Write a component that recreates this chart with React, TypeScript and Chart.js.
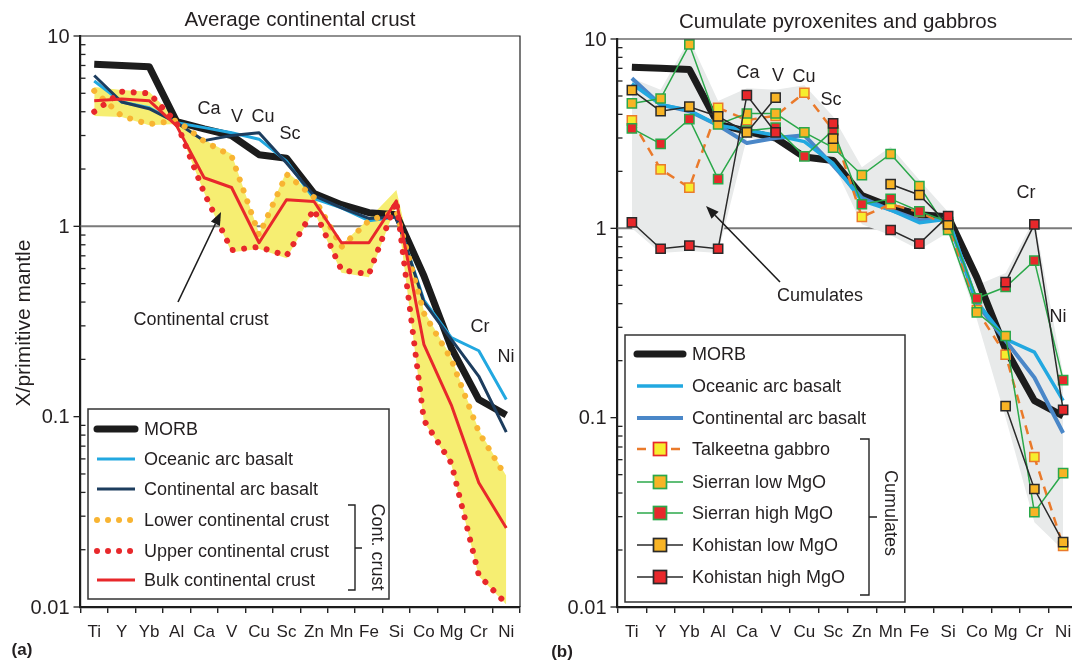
import React, { useEffect, useRef } from "react";
import { Chart, registerables } from "chart.js";

Chart.register(...registerables);

const FONT = "'Liberation Sans', Arial, Helvetica, sans-serif";

// ---------------- data ----------------
const elements = ["Ti", "Y", "Yb", "Al", "Ca", "V", "Cu", "Sc", "Zn", "Mn", "Fe", "Si", "Co", "Mg", "Cr", "Ni"];
const yTickValues = [10, 1, 0.1, 0.01];
const yTickLabels = ["10", "1", "0.1", "0.01"];

const morb = [7.1, 7.0, 6.9, 3.55, 3.25, 3.0, 2.38, 2.28, 1.49, 1.3, 1.18, 1.15, 0.55, 0.23, 0.123, 0.102];
const oceanicArcBasalt = [5.8, 4.5, 4.2, 3.5, 3.3, 3.1, 2.87, 2.2, 1.4, 1.25, 1.07, 1.12, 0.41, 0.26, 0.222, 0.123];
const continentalArcBasalt = [6.2, 4.5, 4.15, 3.5, 2.82, 3.0, 3.1, 2.15, 1.45, 1.25, 1.1, 1.12, 0.4, 0.255, 0.163, 0.083];
const lowerCrust = [5.15, 3.8, 3.44, 3.6, 2.8, 2.34, 0.9, 1.88, 1.42, 0.78, 1.07, 1.2, 0.35, 0.2, 0.083, 0.048];
const upperCrust = [4.0, 5.1, 5.0, 3.5, 1.5, 0.75, 0.78, 0.7, 1.23, 0.59, 0.56, 1.36, 0.096, 0.057, 0.0147, 0.0104];
const bulkCrust = [4.57, 4.66, 4.57, 3.37, 1.8, 1.6, 0.82, 1.38, 1.35, 0.82, 0.82, 1.36, 0.24, 0.115, 0.045, 0.026];
const crustFieldTop = [5.4, 5.2, 5.1, 3.65, 2.85, 2.4, 0.92, 1.95, 1.45, 0.8, 1.1, 1.55, 0.36, 0.205, 0.085, 0.049];
const crustFieldBottom = [3.8, 3.75, 3.4, 3.45, 1.5, 0.73, 0.76, 0.68, 1.2, 0.57, 0.54, 1.3, 0.094, 0.056, 0.0145, 0.0103];

const talkeetnaGabbro = [3.72, 2.05, 1.64, 4.33, 3.73, 3.93, 5.2, 3.3, 1.15, 1.34, 1.22, 1.03, 0.37, 0.215, 0.062, 0.021];
const sierranLowMgO = [4.57, 4.85, 9.35, 3.54, 4.04, 4.04, 3.21, 2.67, 1.91, 2.47, 1.67, 0.98, 0.36, 0.27, 0.0317, 0.051];
const sierranHighMgO = [3.37, 2.79, 3.77, 1.82, 3.28, 3.4, 2.4, 3.3, 1.34, 1.43, 1.23, 1.08, 0.427, 0.49, 0.675, 0.158];
const kohistanLowMgO = [5.37, 4.16, 4.39, 3.9, 3.21, 4.9, null, 2.98, null, 1.71, 1.5, 1.05, null, 0.115, 0.042, 0.022];
const kohistanHighMgO = [1.076, 0.78, 0.81, 0.78, 5.05, 3.21, null, 3.58, null, 0.98, 0.83, 1.16, null, 0.52, 1.05, 0.11];
const cumulateFieldTop = [6.2, 5.4, 10, 4.7, 5.5, 5.4, 5.7, 3.9, 2.1, 2.7, 1.8, 1.22, 0.5, 0.58, 1.12, 0.17];
const cumulateFieldBottom = [1.0, 0.74, 0.76, 0.74, 3.0, 2.9, 2.3, 2.2, 1.05, 0.92, 0.77, 0.95, 0.33, 0.1, 0.028, 0.02];

// ---------------- styles ----------------
const BLACK = "#1c1c1c";
const SKY = "#22a8e0";
const NAVY = "#1d3d5e";
const MIDBLUE = "#4a87c8";
const RED = "#e8282b";
const ORANGE_DOT = "#f8b432";
const YELLOW = "#f6ee72";
const GRAYFIELD = "#e8eaea";
const GREEN = "#2ba84a";
const ORANGE_MK = "#f8b425";
const YELLOW_MK = "#f6ed2e";
const TALK = "#ea7a2b";
const MK_BLACK = "#2a2a2a";
const TEXT = "#231f20";

type LegendEntry = {
  label: string;
  color: string;
  width: number;
  dash?: number[];
  cap?: CanvasLineCap;
  markerFill?: string;
  markerStroke?: string;
  y: number;
};

type Decor = {
  title: string;
  titleX: number;
  titleY: number;
  drawRight: boolean;
  yTitle?: { text: string; x: number; y: number };
  annotations: { text: string; x: number; y: number }[];
  arrow: { x1: number; y1: number; x2: number; y2: number };
  arrowLabel: { text: string; x: number; y: number };
  legendBox: [number, number, number, number];
  sampleX0: number;
  sampleX1: number;
  textX: number;
  entries: LegendEntry[];
  bracket: { x: number; y0: number; y1: number; ym: number; left: number; right: number; text: string; tx: number; ty: number };
  panelLabel: { text: string; x: number; y: number };
};

function drawArrow(ctx: CanvasRenderingContext2D, x1: number, y1: number, x2: number, y2: number) {
  const ang = Math.atan2(y2 - y1, x2 - x1);
  const hl = 13;
  const hw = 5;
  const bx = x2 - hl * Math.cos(ang);
  const by = y2 - hl * Math.sin(ang);
  ctx.save();
  ctx.strokeStyle = BLACK;
  ctx.fillStyle = BLACK;
  ctx.lineWidth = 1.6;
  ctx.beginPath();
  ctx.moveTo(x1, y1);
  ctx.lineTo(bx, by);
  ctx.stroke();
  ctx.beginPath();
  ctx.moveTo(x2, y2);
  ctx.lineTo(bx + hw * Math.sin(ang), by - hw * Math.cos(ang));
  ctx.lineTo(bx - hw * Math.sin(ang), by + hw * Math.cos(ang));
  ctx.closePath();
  ctx.fill();
  ctx.restore();
}

function makeDecor(d: Decor) {
  return {
    id: "decor",
    beforeDatasetsDraw(chart: any) {
      const { ctx, chartArea: a, scales } = chart;
      const py = scales.y.getPixelForValue(1);
      ctx.save();
      ctx.strokeStyle = "#7a7a7a";
      ctx.lineWidth = 2;
      ctx.beginPath();
      ctx.moveTo(a.left, py);
      ctx.lineTo(a.right, py);
      ctx.stroke();
      ctx.restore();
    },
    afterDraw(chart: any) {
      const { ctx, chartArea: a, scales } = chart;
      const ys = scales.y;
      ctx.save();
      // frame
      ctx.strokeStyle = "#222";
      ctx.lineWidth = 1.2;
      ctx.beginPath();
      ctx.moveTo(a.left, a.top);
      ctx.lineTo(a.right, a.top);
      if (d.drawRight) ctx.lineTo(a.right, a.bottom);
      ctx.stroke();
      // y minor ticks
      ctx.lineWidth = 1.3;
      for (let dec = -2; dec <= 0; dec++) {
        for (let m = 2; m <= 9; m++) {
          const p = ys.getPixelForValue(m * Math.pow(10, dec));
          ctx.beginPath();
          ctx.moveTo(a.left, p);
          ctx.lineTo(a.left + 5, p);
          ctx.stroke();
        }
      }
      // y major ticks + labels
      ctx.font = `20px ${FONT}`;
      ctx.fillStyle = TEXT;
      ctx.textAlign = "right";
      ctx.textBaseline = "middle";
      yTickValues.forEach((v, i) => {
        const p = ys.getPixelForValue(v);
        ctx.beginPath();
        ctx.moveTo(a.left - 7, p);
        ctx.lineTo(a.left, p);
        ctx.stroke();
        ctx.fillText(yTickLabels[i], a.left - 11, p + 1);
      });
      // title
      ctx.textAlign = "center";
      ctx.font = `20.5px ${FONT}`;
      ctx.fillText(d.title, d.titleX, d.titleY);
      // y title
      if (d.yTitle) {
        ctx.save();
        ctx.translate(d.yTitle.x, d.yTitle.y);
        ctx.rotate(-Math.PI / 2);
        ctx.font = `21px ${FONT}`;
        ctx.fillText(d.yTitle.text, 0, 0);
        ctx.restore();
      }
      // annotations
      ctx.font = `18px ${FONT}`;
      d.annotations.forEach((t) => ctx.fillText(t.text, t.x, t.y));
      ctx.fillText(d.arrowLabel.text, d.arrowLabel.x, d.arrowLabel.y);
      drawArrow(ctx, d.arrow.x1, d.arrow.y1, d.arrow.x2, d.arrow.y2);
      // legend box
      const [l, t, r, b] = d.legendBox;
      ctx.fillStyle = "#fff";
      ctx.fillRect(l, t, r - l, b - t);
      ctx.strokeStyle = "#333";
      ctx.lineWidth = 1.5;
      ctx.strokeRect(l, t, r - l, b - t);
      d.entries.forEach((e) => {
        ctx.save();
        ctx.strokeStyle = e.color;
        ctx.lineWidth = e.width;
        ctx.lineCap = e.cap || "butt";
        ctx.setLineDash(e.dash || []);
        ctx.beginPath();
        ctx.moveTo(d.sampleX0, e.y);
        ctx.lineTo(d.sampleX1, e.y);
        ctx.stroke();
        if (e.markerFill) {
          const s = 13;
          const cx = (d.sampleX0 + d.sampleX1) / 2;
          ctx.setLineDash([]);
          ctx.fillStyle = e.markerFill;
          ctx.fillRect(cx - s / 2, e.y - s / 2, s, s);
          ctx.strokeStyle = e.markerStroke || BLACK;
          ctx.lineWidth = 1.7;
          ctx.strokeRect(cx - s / 2, e.y - s / 2, s, s);
        }
        ctx.restore();
        ctx.fillStyle = TEXT;
        ctx.textAlign = "left";
        ctx.textBaseline = "middle";
        ctx.font = `18px ${FONT}`;
        ctx.fillText(e.label, d.textX, e.y + 1);
      });
      // bracket
      const br = d.bracket;
      ctx.strokeStyle = "#222";
      ctx.lineWidth = 1.4;
      ctx.beginPath();
      ctx.moveTo(br.left, br.y0);
      ctx.lineTo(br.x, br.y0);
      ctx.lineTo(br.x, br.y1);
      ctx.lineTo(br.left, br.y1);
      ctx.moveTo(br.x, br.ym);
      ctx.lineTo(br.right, br.ym);
      ctx.stroke();
      ctx.save();
      ctx.translate(br.tx, br.ty);
      ctx.rotate(Math.PI / 2);
      ctx.textAlign = "center";
      ctx.textBaseline = "middle";
      ctx.fillStyle = TEXT;
      ctx.font = `18px ${FONT}`;
      ctx.fillText(br.text, 0, 0);
      ctx.restore();
      // panel label
      ctx.font = `bold 17px ${FONT}`;
      ctx.textAlign = "center";
      ctx.fillStyle = TEXT;
      ctx.fillText(d.panelLabel.text, d.panelLabel.x, d.panelLabel.y);
      ctx.restore();
    },
  };
}

function line(label: string, data: (number | null)[], o: any) {
  return { label, data, pointRadius: 0, tension: 0, fill: false, borderJoinStyle: "round", ...o };
}

function marker(label: string, data: (number | null)[], lineColor: string, fillColor: string, edge: string, o: any) {
  return {
    label,
    data,
    tension: 0,
    fill: false,
    borderColor: lineColor,
    borderWidth: 1.5,
    pointStyle: "rect",
    pointRadius: 6.5,
    pointBackgroundColor: fillColor,
    pointBorderColor: edge,
    pointBorderWidth: 1.5,
    ...o,
  };
}

function baseOptions(left: number, top: number, rightPad: number, bottomH: number) {
  return {
    responsive: false,
    maintainAspectRatio: false,
    animation: false,
    events: [],
    layout: { padding: { left: 0, top, right: rightPad, bottom: 0 } },
    plugins: { legend: { display: false }, tooltip: { enabled: false }, title: { display: false } },
    scales: {
      x: {
        type: "category",
        labels: elements,
        offset: true,
        grid: {
          display: true,
          offset: true,
          drawOnChartArea: false,
          drawTicks: true,
          tickLength: 6,
          color: "#222",
          tickColor: "#222",
          tickWidth: 1.4,
          lineWidth: 1.4,
        },
        border: { display: true, color: BLACK, width: 2.2 },
        ticks: { font: { family: FONT, size: 17 }, color: TEXT, padding: 9, maxRotation: 0, autoSkip: false },
        afterFit: (s: any) => {
          s.height = bottomH;
        },
      },
      y: {
        type: "logarithmic",
        min: 0.01,
        max: 10,
        grid: { display: false },
        border: { display: true, color: BLACK, width: 2.2 },
        ticks: { display: false },
        afterFit: (s: any) => {
          s.width = left;
        },
      },
    },
  };
}

function configA(): any {
  const decor = makeDecor({
    title: "Average continental crust",
    titleX: 300,
    titleY: 20,
    drawRight: true,
    yTitle: { text: "X/primitive mantle", x: 24, y: 323 },
    annotations: [
      { text: "Ca", x: 209, y: 109 },
      { text: "V", x: 237, y: 117 },
      { text: "Cu", x: 263, y: 117 },
      { text: "Sc", x: 290, y: 134 },
      { text: "Cr", x: 480, y: 327 },
      { text: "Ni", x: 506, y: 357 },
    ],
    arrow: { x1: 178, y1: 302, x2: 221, y2: 212 },
    arrowLabel: { text: "Continental crust", x: 201, y: 320 },
    legendBox: [88, 409, 389, 599],
    sampleX0: 97,
    sampleX1: 135,
    textX: 144,
    entries: [
      { label: "MORB", color: BLACK, width: 7, cap: "round", y: 429 },
      { label: "Oceanic arc basalt", color: SKY, width: 3, y: 459 },
      { label: "Continental arc basalt", color: NAVY, width: 3, y: 489 },
      { label: "Lower continental crust", color: ORANGE_DOT, width: 6, cap: "round", dash: [0.01, 11], y: 520 },
      { label: "Upper continental crust", color: RED, width: 6, cap: "round", dash: [0.01, 11], y: 551 },
      { label: "Bulk continental crust", color: RED, width: 3, y: 580 },
    ],
    bracket: { x: 355, y0: 505, y1: 590, ym: 548, left: 348, right: 362, text: "Cont. crust", tx: 377, ty: 547 },
    panelLabel: { text: "(a)", x: 22, y: 650 },
  });
  return {
    type: "line",
    data: {
      labels: elements,
      datasets: [
        line("Bulk continental crust", bulkCrust, { borderColor: RED, borderWidth: 3, order: 0 }),
        line("Upper continental crust", upperCrust, {
          borderColor: RED,
          borderWidth: 6,
          borderDash: [0.01, 11.5],
          borderCapStyle: "round",
          order: 1,
        }),
        line("Lower continental crust", lowerCrust, {
          borderColor: ORANGE_DOT,
          borderWidth: 6,
          borderDash: [0.01, 11.5],
          borderCapStyle: "round",
          order: 2,
        }),
        line("Continental arc basalt", continentalArcBasalt, { borderColor: NAVY, borderWidth: 3, order: 3 }),
        line("Oceanic arc basalt", oceanicArcBasalt, { borderColor: SKY, borderWidth: 3, order: 4 }),
        line("MORB", morb, { borderColor: BLACK, borderWidth: 7, order: 5 }),
        line("Continental crust field", crustFieldTop, {
          borderColor: "rgba(0,0,0,0)",
          borderWidth: 0,
          backgroundColor: YELLOW,
          fill: "+1",
          order: 7,
        }),
        line("Continental crust field base", crustFieldBottom, {
          borderColor: "rgba(0,0,0,0)",
          borderWidth: 0,
          order: 6,
        }),
      ],
    },
    options: baseOptions(80.5, 36, 20, 53),
    plugins: [decor],
  };
}

function configB(): any {
  const off = 540;
  const decor = makeDecor({
    title: "Cumulate pyroxenites and gabbros",
    titleX: 838 - off,
    titleY: 22,
    drawRight: false,
    annotations: [
      { text: "Ca", x: 748 - off, y: 73 },
      { text: "V", x: 778 - off, y: 76 },
      { text: "Cu", x: 804 - off, y: 77 },
      { text: "Sc", x: 831 - off, y: 100 },
      { text: "Cr", x: 1026 - off, y: 193 },
      { text: "Ni", x: 1058 - off, y: 317 },
    ],
    arrow: { x1: 780 - off, y1: 282, x2: 706 - off, y2: 206 },
    arrowLabel: { text: "Cumulates", x: 820 - off, y: 296 },
    legendBox: [625 - off, 335, 905 - off, 602],
    sampleX0: 637 - off,
    sampleX1: 683 - off,
    textX: 692 - off,
    entries: [
      { label: "MORB", color: BLACK, width: 7, cap: "round", y: 354 },
      { label: "Oceanic arc basalt", color: SKY, width: 3.5, y: 386 },
      { label: "Continental arc basalt", color: MIDBLUE, width: 4, y: 418 },
      { label: "Talkeetna gabbro", color: TALK, width: 2.5, dash: [9, 8], markerFill: YELLOW_MK, markerStroke: RED, y: 449 },
      { label: "Sierran low MgO", color: GREEN, width: 1.5, markerFill: ORANGE_MK, markerStroke: GREEN, y: 482 },
      { label: "Sierran high MgO", color: GREEN, width: 1.5, markerFill: RED, markerStroke: GREEN, y: 513 },
      { label: "Kohistan low MgO", color: MK_BLACK, width: 1.5, markerFill: ORANGE_MK, markerStroke: MK_BLACK, y: 545 },
      { label: "Kohistan high MgO", color: MK_BLACK, width: 1.5, markerFill: RED, markerStroke: MK_BLACK, y: 577 },
    ],
    bracket: { x: 869 - off, y0: 439, y1: 595, ym: 517, left: 860 - off, right: 877 - off, text: "Cumulates", tx: 890 - off, ty: 513 },
    panelLabel: { text: "(b)", x: 562 - off, y: 652 },
  });
  return {
    type: "line",
    data: {
      labels: elements,
      datasets: [
        marker("Kohistan high MgO", kohistanHighMgO, MK_BLACK, RED, MK_BLACK, { order: 0 }),
        marker("Kohistan low MgO", kohistanLowMgO, MK_BLACK, ORANGE_MK, MK_BLACK, { order: 1 }),
        marker("Sierran high MgO", sierranHighMgO, GREEN, RED, GREEN, { order: 2 }),
        marker("Sierran low MgO", sierranLowMgO, GREEN, ORANGE_MK, GREEN, { order: 3 }),
        marker("Talkeetna gabbro", talkeetnaGabbro, TALK, YELLOW_MK, TALK, {
          order: 4,
          borderWidth: 2.5,
          borderDash: [9, 7],
        }),
        line("Oceanic arc basalt", oceanicArcBasalt, { borderColor: SKY, borderWidth: 3.5, order: 5 }),
        line("Continental arc basalt", continentalArcBasalt, { borderColor: MIDBLUE, borderWidth: 4, order: 6 }),
        line("MORB", morb, { borderColor: BLACK, borderWidth: 7, order: 7 }),
        line("Cumulate field", cumulateFieldTop, {
          borderColor: "rgba(0,0,0,0)",
          borderWidth: 0,
          backgroundColor: GRAYFIELD,
          fill: "+1",
          order: 9,
        }),
        line("Cumulate field base", cumulateFieldBottom, {
          borderColor: "rgba(0,0,0,0)",
          borderWidth: 0,
          order: 8,
        }),
      ],
    },
    options: baseOptions(77.5, 39, 62.5, 53),
    plugins: [decor],
  };
}

function Panel({ left, width, make }: { left: number; width: number; make: () => any }) {
  const ref = useRef<HTMLCanvasElement | null>(null);
  useEffect(() => {
    const chart = new Chart(ref.current as HTMLCanvasElement, make());
    return () => chart.destroy();
  }, []);
  return (
    <canvas
      ref={ref}
      width={width}
      height={660}
      style={{ position: "absolute", left, top: 0, width, height: 660, display: "block" }}
    />
  );
}

export default function App() {
  return (
    <div
      style={{
        position: "fixed",
        left: 0,
        top: 0,
        width: 1072,
        height: 660,
        overflow: "hidden",
        background: "#fff",
      }}
    >
      <Panel left={0} width={540} make={configA} />
      <Panel left={540} width={600} make={configB} />
    </div>
  );
}
